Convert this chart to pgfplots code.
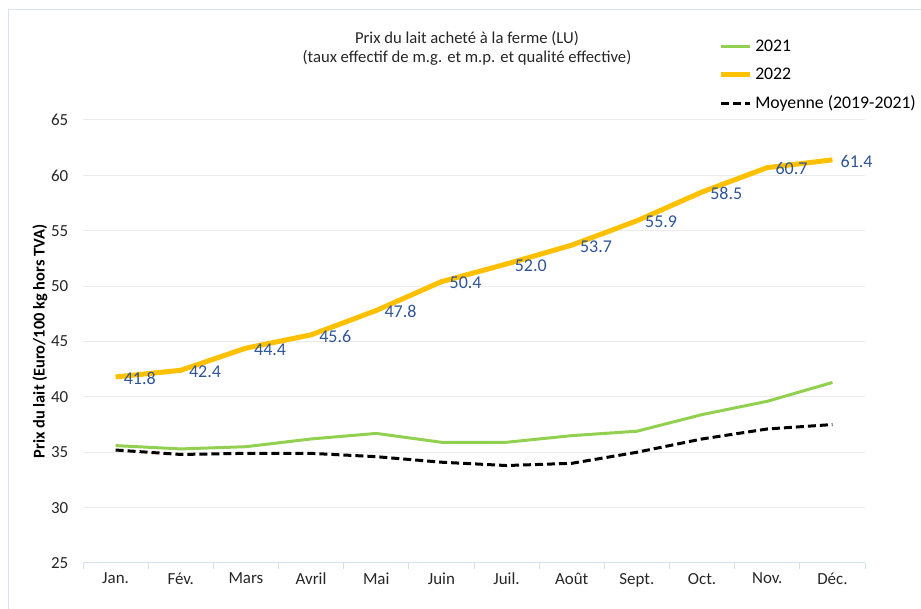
\documentclass[border=0pt]{standalone}
\usepackage{fontspec}
\setmainfont{Carlito}
\usepackage{pgfplots}
\pgfplotsset{compat=1.18}
\definecolor{c2021}{RGB}{146,208,80}
\definecolor{c2022}{RGB}{255,192,0}
\definecolor{lbl}{RGB}{47,85,151}
\definecolor{gridc}{RGB}{235,235,235}
\definecolor{axc}{RGB}{214,224,240}
\definecolor{framec}{RGB}{218,227,243}
\begin{document}
\begin{tikzpicture}
\path[use as bounding box] (0,0) rectangle (690.75pt,456.75pt);
\draw[framec, line width=0.75pt] (6pt,0) -- (6pt,449.25pt) -- (690.75pt,449.25pt);
\begin{axis}[
  at={(62.25pt,34.5pt)}, anchor=south west,
  scale only axis, width=586.5pt, height=332.25pt,
  xmin=-0.5, xmax=11.5, ymin=25, ymax=65,
  xtick={0,...,11},
  xticklabels={Jan.,Fév.,Mars,Avril,Mai,Juin,Juil.,Août,Sept.,Oct.,Nov.,Déc.},
  minor xtick={-0.5,0.5,...,11.5},
  ytick={25,30,...,65},
  axis x line*=bottom, axis y line*=left,
  y axis line style={draw=none},
  x axis line style={axc, line width=0.75pt},
  major tick length=0pt, minor tick length=4.5pt, tick align=outside,
  minor tick style={axc, line width=0.75pt},
  ymajorgrids, major grid style={gridc, line width=0.75pt},
  /pgf/number format/assume math mode=true,
  tick label style={font=\fontsize{12.7}{14}\selectfont, text=black!85},
  yticklabel style={xshift=-7.5pt},
  xticklabel style={yshift=-4pt},
  ylabel={Prix du lait (Euro/100 kg hors TVA)},
  ylabel style={at={(rel axis cs:-0.055,0.5)}, anchor=center, rotate=0, font=\bfseries\fontsize{12.3}{14}\selectfont},
  clip=false,
  legend cell align=left,
  legend style={at={(rel axis cs:0.812,1.188)}, anchor=north west, draw=none, fill=none,
    font=\fontsize{13.3}{15}\selectfont, row sep=7pt, inner sep=0pt},
  legend image code/.code={\draw[#1] (0pt,0pt) -- (22pt,0pt);},
]
\addplot[c2021, line width=2.25pt] coordinates {
(0,35.6) (1,35.3) (2,35.5) (3,36.2) (4,36.7) (5,35.9) (6,35.9) (7,36.5) (8,36.9) (9,38.4) (10,39.6) (11,41.3)};
\addlegendentry{2021}
\addplot[c2022, line width=3.75pt,
  nodes near coords={\pgfmathprintnumber[fixed,fixed zerofill,precision=1]{\pgfplotspointmeta}},
  point meta=explicit,
  every node near coord/.append style={anchor=west, xshift=1pt, yshift=-1pt, text=lbl,
    font=\fontsize{13.5}{15}\selectfont}] coordinates {
(0,41.8) [41.8] (1,42.4) [42.4] (2,44.4) [44.4] (3,45.6) [45.6] (4,47.8) [47.8] (5,50.4) [50.4]
(6,52.0) [52.0] (7,53.7) [53.7] (8,55.9) [55.9] (9,58.5) [58.5] (10,60.7) [60.7] (11,61.4) [61.4]};
\addlegendentry{2022}
\addplot[black, line width=2.25pt, dash pattern=on 6pt off 3pt] coordinates {
(0,35.2) (1,34.8) (2,34.9) (3,34.9) (4,34.6) (5,34.1) (6,33.8) (7,34.0) (8,35.0) (9,36.2) (10,37.1) (11,37.5)};
\addlegendentry{Moyenne (2019-2021)}
\node[align=center, font=\fontsize{12.5}{14.25}\selectfont, text=black!85] at (rel axis cs:0.491,1.162)
  {Prix du lait acheté à la ferme (LU)\\(taux effectif de m.g. et m.p. et qualité effective)};
\end{axis}
\end{tikzpicture}
\end{document}
